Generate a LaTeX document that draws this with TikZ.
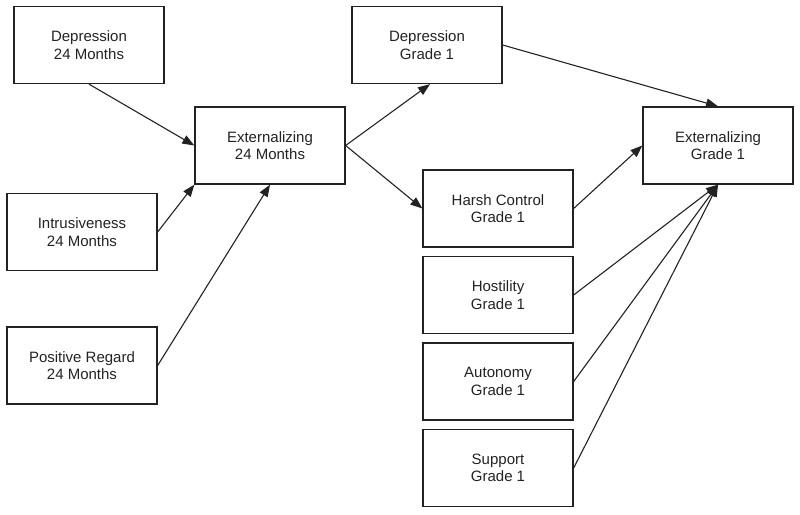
\documentclass[tikz,border=0pt]{standalone}
\usepackage{fontspec}
\setmainfont{Liberation Sans}
\usetikzlibrary{arrows.meta}
\definecolor{ink}{HTML}{222222}
\begin{document}
\begin{tikzpicture}[x=1pt,y=-1pt,
  box/.style={draw=ink,line width=1.3pt,minimum width=150pt,minimum height=77pt,
    align=center,inner sep=0pt,text=ink,font=\fontsize{15}{17.5}\selectfont},
  arr/.style={draw=ink,line width=1.1pt,-{Triangle[length=12pt,width=9pt]}}]
\useasboundingbox (0,0) rectangle (800,514);
\node[box] (d24) at (89,45) {Depression\\24 Months};
\node[box] (i24) at (82,232) {Intrusiveness\\24 Months};
\node[box] (p24) at (82,365.5) {Positive Regard\\24 Months};
\node[box] (e24) at (270,145.5) {Externalizing\\24 Months};
\node[box] (dg1) at (427,45) {Depression\\Grade 1};
\node[box] (hc) at (498,208.5) {Harsh Control\\Grade 1};
\node[box] (ho) at (498,295) {Hostility\\Grade 1};
\node[box] (au) at (498,381.5) {Autonomy\\Grade 1};
\node[box] (su) at (498,468) {Support\\Grade 1};
\node[box] (eg1) at (718,145.5) {Externalizing\\Grade 1};
\draw[arr] (d24.south) -- (e24.west);
\draw[arr] (i24.east) -- (e24.south west);
\draw[arr] (p24.east) -- (e24.south);
\draw[arr] (e24.east) -- ([xshift=3pt]dg1.south);
\draw[arr] (e24.east) -- (hc.west);
\draw[arr] (dg1.east) -- (eg1.north);
\draw[arr] (hc.east) -- (eg1.west);
\draw[arr] (ho.east) -- (eg1.south);
\draw[arr] (au.east) -- (eg1.south);
\draw[arr] (su.east) -- (eg1.south);
\end{tikzpicture}
\end{document}
